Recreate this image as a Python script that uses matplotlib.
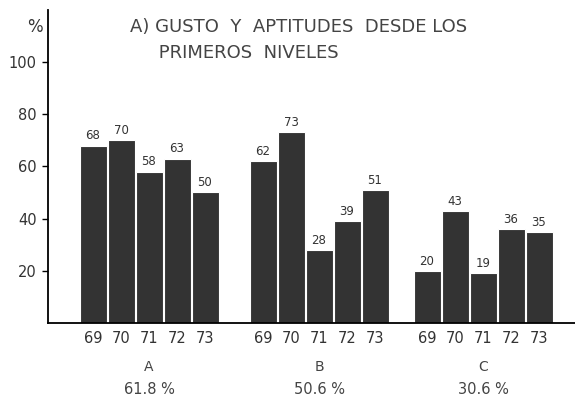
import matplotlib
matplotlib.use("Agg")
import matplotlib.pyplot as plt

groups = ["A", "B", "C"]
group_pct = ["61.8 %", "50.6 %", "30.6 %"]
years = ["69", "70", "71", "72", "73"]
values_A = [68, 70, 58, 63, 50]
values_B = [62, 73, 28, 39, 51]
values_C = [20, 43, 19, 36, 35]
yticks = [20, 40, 60, 80, 100]
title = "A) GUSTO  Y  APTITUDES  DESDE LOS\n     PRIMEROS  NIVELES"

plt.rcParams['font.family'] = ['DejaVu Sans']
fig = plt.figure(figsize=(5.75, 4.0), dpi=100)
ax = fig.add_axes([48/575, 77/400, 1 - 48/575, (323 - 10)/400])

group_starts = [45, 215, 379]
step = 28
width = 27
series = [values_A, values_B, values_C]
xs_all, labels_all = [], []
for g, (start, vals) in enumerate(zip(group_starts, series)):
    xs = [start + i*step for i in range(len(vals))]
    ax.bar(xs, vals, width=width, color="#333333", edgecolor="white", linewidth=0.8)
    for x, v in zip(xs, vals):
        ax.text(x, v + 1.2, str(v), ha="center", va="bottom", fontsize=8.5, color="#333333")
    xs_all += xs
    labels_all += years
    ax.text(xs[2], -17, groups[g], ha="center", va="center", fontsize=10, color="#444444")
    ax.text(xs[2], -25.5, group_pct[g], ha="center", va="center", fontsize=10.5, color="#444444")

ax.set_xlim(0, 575 - 48)
ax.set_xticks(xs_all)
ax.set_xticklabels(labels_all, fontsize=10.5, color="#333333")
ax.tick_params(axis="x", length=0, pad=6)
ax.set_ylim(0, 313/52.2*20)
ax.set_yticks(yticks)
ax.set_yticklabels([str(t) for t in yticks], fontsize=10.5, color="#333333")
ax.tick_params(axis="y", length=4, width=1, direction="out", pad=4)
for s in ["top", "right"]:
    ax.spines[s].set_visible(False)
ax.spines["left"].set_linewidth(1.3)
ax.spines["bottom"].set_linewidth(1.3)

fig.text(35/575, 1 - 27/400, "%", ha="center", va="center", fontsize=12, color="#333333")
fig.text(130/575, 1 - 40/400, title, ha="left", va="center", fontsize=13, color="#444444", linespacing=1.5)

fig.savefig("out.png", dpi=100)
